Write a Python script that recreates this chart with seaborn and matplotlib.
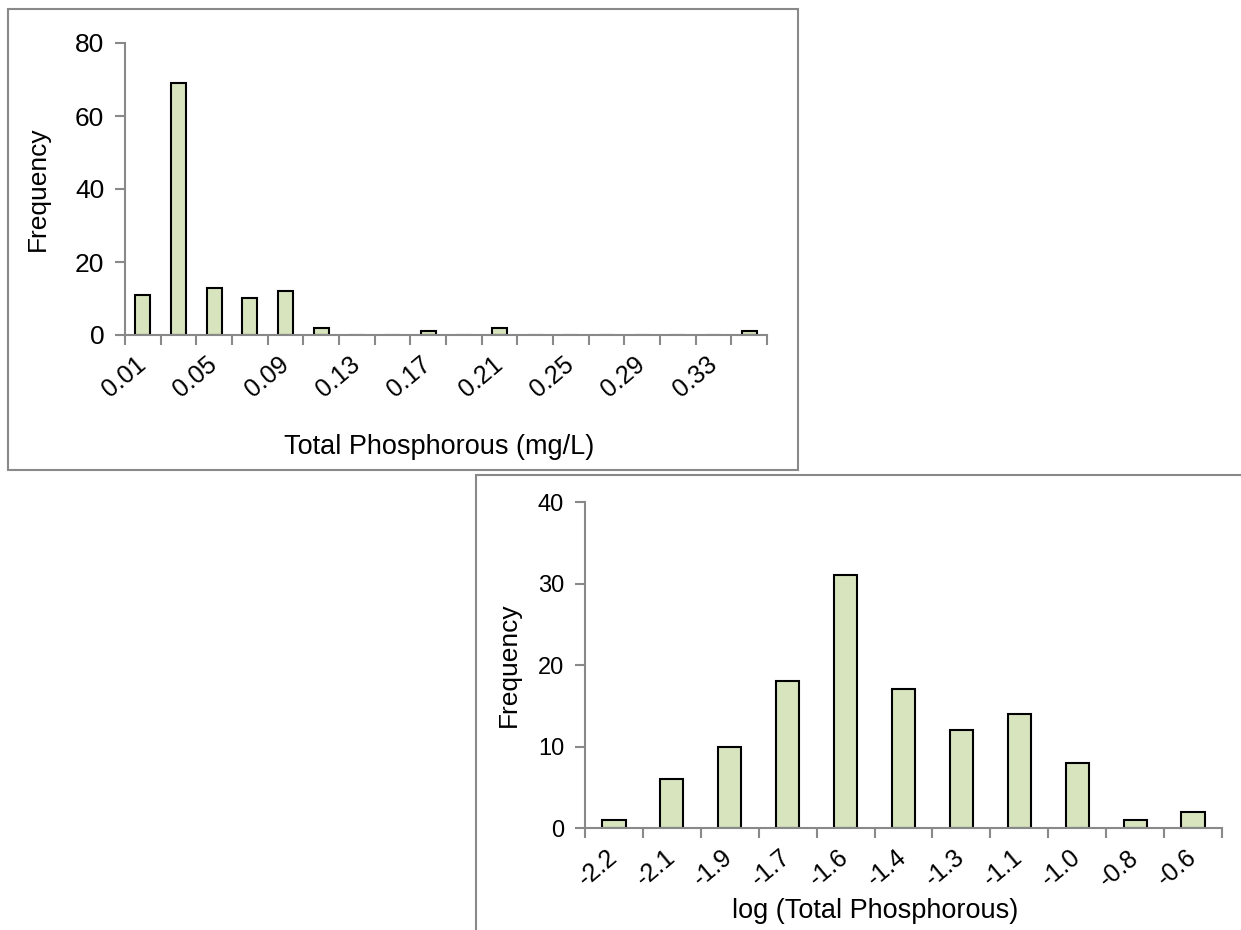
import pandas as pd
import seaborn as sns
import matplotlib.pyplot as plt
from matplotlib.patches import Rectangle

# ---- data ----
tp_bins = ["0.01", "0.03", "0.05", "0.07", "0.09", "0.11", "0.13", "0.15", "0.17",
           "0.19", "0.21", "0.23", "0.25", "0.27", "0.29", "0.31", "0.33", "0.35"]
tp_counts = [11, 69, 13, 10, 12, 2, 0, 0, 1, 0, 2, 0, 0, 0, 0, 0, 0, 1]

log_bins = ["-2.2", "-2.1", "-1.9", "-1.7", "-1.6", "-1.4", "-1.3", "-1.1", "-1.0", "-0.8", "-0.6"]
log_counts = [1, 6, 10, 18, 31, 17, 12, 14, 8, 1, 2]

sns.set_style("white")
plt.rcParams['font.family'] = ['Liberation Sans', 'DejaVu Sans']
plt.rcParams['text.color'] = 'black'
plt.rcParams['axes.labelcolor'] = 'black'
plt.rcParams['xtick.color'] = 'black'
plt.rcParams['ytick.color'] = 'black'

BAR = "#D7E4BD"
AXC = "#898989"
W, H = 1241, 930
FS = 19

fig = plt.figure(figsize=(W / 100, H / 100), dpi=100)

# chart frames (Excel style boxes)
fig.patches.append(Rectangle((8 / W, 1 - 470 / H), 790 / W, 461 / H, transform=fig.transFigure,
                             fill=False, edgecolor=AXC, linewidth=1.5))
fig.patches.append(Rectangle((476 / W, -0.05), 0.7, 1 - 475 / H + 0.05, transform=fig.transFigure,
                             fill=False, edgecolor=AXC, linewidth=1.5))


def style_axis(ax, n, ymax, ystep, xlabel, labelpad_y, ytick_fs):
    ax.set_xlim(-0.5, n - 0.5)
    ax.set_ylim(0, ymax)
    ax.set_yticks(range(0, ymax + 1, ystep))
    ax.set_xticks([i - 0.5 for i in range(n + 1)], minor=True)
    for s in ["top", "right"]:
        ax.spines[s].set_visible(False)
    for s in ["left", "bottom"]:
        ax.spines[s].set_color(AXC)
        ax.spines[s].set_linewidth(1.5)
    ax.tick_params(axis="x", which="both", bottom=True)
    ax.tick_params(axis="x", which="major", length=0, pad=19, labelsize=18)
    ax.tick_params(axis="x", which="minor", length=7, width=1.5, color=AXC, direction="out")
    ax.tick_params(axis="y", left=True, length=7, width=1.5, color=AXC, labelcolor="black",
                   direction="out", labelsize=ytick_fs, pad=8)
    for t in ax.get_xticklabels():
        t.set_rotation(40)
        t.set_ha("right")
        t.set_va("center")
        t.set_rotation_mode("anchor")
    ax.set_ylabel("Frequency", fontsize=FS, labelpad=labelpad_y)
    ax.set_xlabel(xlabel, fontsize=FS + 0.5)


# top: raw values
ax1 = fig.add_axes([125 / W, 1 - 335 / H, 642 / W, 292 / H])
df1 = pd.DataFrame({"bin": tp_bins, "count": tp_counts})
sns.barplot(data=df1, x="bin", y="count", color=BAR, edgecolor="black", linewidth=1.5,
            width=0.42, saturation=1, ax=ax1)
ax1.set_xticks(range(0, len(tp_bins), 2), tp_bins[::2])
style_axis(ax1, len(tp_bins), 80, 20, "Total Phosphorous (mg/L)", 18, 19)
ax1.xaxis.set_label_coords(0.49, -0.34)

# bottom: log values
ax2 = fig.add_axes([585 / W, 1 - 828 / H, 637 / W, 326 / H])
df2 = pd.DataFrame({"bin": log_bins, "count": log_counts})
sns.barplot(data=df2, x="bin", y="count", color=BAR, edgecolor="black", linewidth=1.5,
            width=0.40, saturation=1, ax=ax2)
ax2.set_xticks(range(len(log_bins)), log_bins)
style_axis(ax2, len(log_bins), 40, 10, "log (Total Phosphorous)", 12, 17)
ax2.xaxis.set_label_coords(0.455, -0.215)

fig.savefig("out.png", dpi=100)
